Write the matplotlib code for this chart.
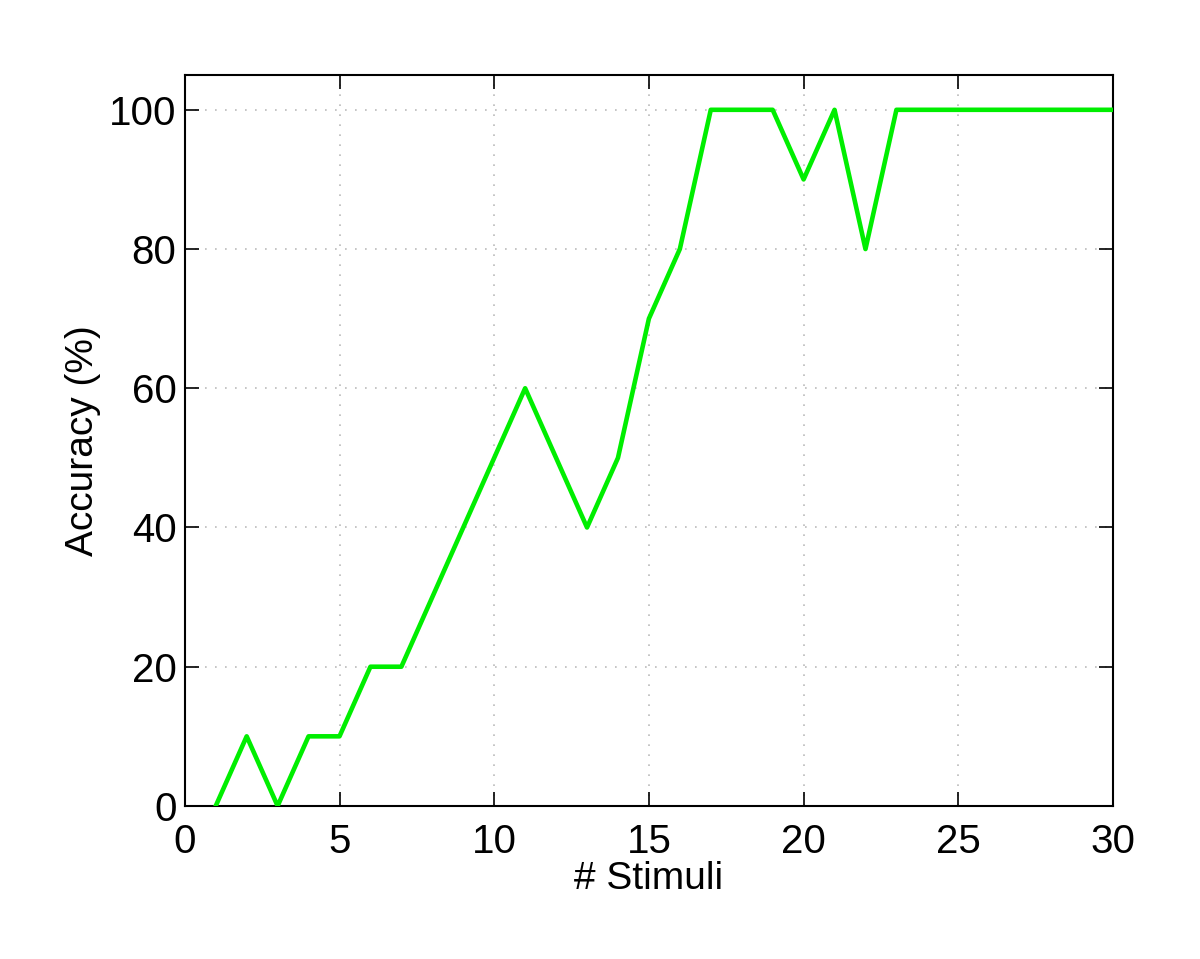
import matplotlib
matplotlib.use("Agg")
import matplotlib.pyplot as plt

stimuli = list(range(1, 31))
accuracy = [0, 10, 0, 10, 10, 20, 20, 30, 40, 50,
            60, 50, 40, 50, 70, 80, 100, 100, 100, 90,
            100, 80, 100, 100, 100, 100, 100, 100, 100, 100]
xticks = [0, 5, 10, 15, 20, 25, 30]
yticks = [0, 20, 40, 60, 80, 100]

plt.rcParams["font.family"] = ["Liberation Sans", "DejaVu Sans"]

fig = plt.figure(figsize=(12, 9.59), dpi=100)
ax = fig.add_axes([0.154, 0.1596, 0.7735, 0.7622])
ax.plot(stimuli, accuracy, color="#00ee00", linewidth=3.3, zorder=3)
ax.set_xlim(0, 30)
ax.set_ylim(0, 105)
ax.set_xticks(xticks)
ax.set_yticks(yticks)
ax.grid(True, linestyle=(0, (1, 5)), color="#bbbbbb", linewidth=1.2)
ax.tick_params(direction="in", length=10, width=1.2, labelsize=29,
               top=True, right=True)
ax.tick_params(axis="x", pad=12)
ax.tick_params(axis="y", pad=6)
for s in ax.spines.values():
    s.set_linewidth(1.5)
ax.set_xlabel("# Stimuli", fontsize=28, labelpad=0)
ax.set_ylabel("Accuracy (%)", fontsize=28, labelpad=6)

fig.savefig("out.png", dpi=100)
